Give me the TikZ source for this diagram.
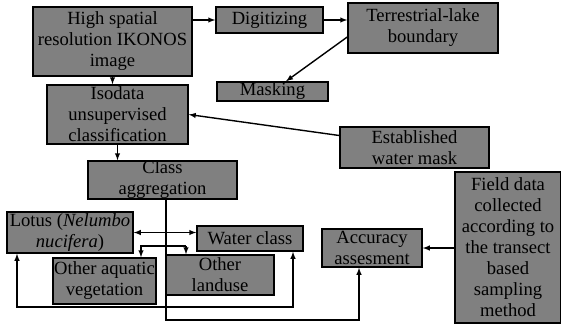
\documentclass[tikz,border=0pt]{standalone}
\usepackage{fontspec}
\setmainfont{LiberationSerif}[Extension=.ttf, UprightFont=*-Regular, ItalicFont=*-Italic, BoldFont=*-Bold]
\definecolor{boxgray}{RGB}{128,128,128}
\begin{document}
\begin{tikzpicture}[x=1pt,y=-1pt,
  box/.style={draw, line width=1.5pt, fill=boxgray, inner sep=0pt, align=center,
    font=\fontsize{18.6}{21}\selectfont},
  link/.style={draw, line width=1.4pt, >=latex}]
\useasboundingbox (0,0) rectangle (561,324);
\node[box, minimum width=159, minimum height=69] (img) at (112.5,41.5) {High spatial\\resolution IKONOS\\image};
\node[box, minimum width=107, minimum height=26] (dig) at (269.5,20) {Digitizing};
\node[box, minimum width=150, minimum height=50] (ter) at (423,28) {Terrestrial-lake\\boundary};
\node[box, minimum width=111, minimum height=19] (mask) at (272.5,91.5) {Masking};
\node[box, minimum width=141, minimum height=59] (iso) at (117.5,114.5) {Isodata\\unsupervised\\classification};
\node[box, minimum width=149, minimum height=41] (est) at (414.5,147.5) {Established\\water mask};
\node[box, minimum width=149, minimum height=38] (cls) at (162.5,180) {Class\\aggregation};
\node[box, minimum width=106, minimum height=151] (field) at (508,247.5) {Field data\\collected\\according to\\the transect\\based\\sampling\\method};
\node[box, minimum width=100, minimum height=38] (acc) at (372,248) {Accuracy\\assesment};
\node[box, minimum width=126, minimum height=41] (lotus) at (70,232.5) {Lotus (\textit{Nelumbo}\\\textit{nucifera})};
\node[box, minimum width=106, minimum height=25] (water) at (250,238.5) {Water class};
\node[box, minimum width=103, minimum height=46] (aqua) at (104.5,281) {Other aquatic\\vegetation};
\node[box, minimum width=108, minimum height=40] (land) at (220,275) {Other\\landuse};

\coordinate (c1) at (166,320);
\coordinate (b1) at (141,246);
\coordinate (b2) at (186,246);
\coordinate (b3) at (17,307);
\coordinate (b4) at (293,307);

\path[link,->] (img.east |- dig) -- (dig.west);
\path[link,->] (dig.east) -- (dig -| ter.west);
\path[link,->] ([yshift=-9pt]ter.west) -- ([xshift=13.5pt]mask.north);
\path[link,->] (img.south) -- (img.south |- iso.north);
\path[link,->] ([yshift=12pt]est.west) -- (iso.east);
\path[link,->] (iso.south) -- (iso.south |- cls.north);
\path[link,->] ([xshift=3.5pt]cls.south) -- (c1) -| ([xshift=-13pt]acc.south);
\path[link,<->] (lotus.east) -- (lotus.east -| water.west);
\path[link,->] (b2) -- (b1) -- (b1 |- aqua.north);
\path[link,->] (b2) -- (b2 |- land.north);
\path[link,<->] (b3 |- lotus.south) -- (b3) -- (b4) -- (b4 |- water.south);
\path[link,->] (field.west |- acc) -- (acc.east);
\end{tikzpicture}
\end{document}
